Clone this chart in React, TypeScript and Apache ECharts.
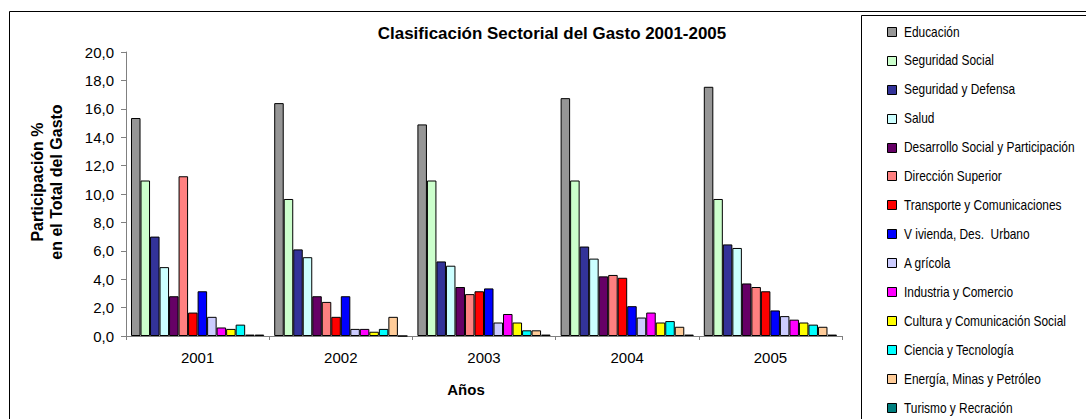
import React, { useEffect, useRef } from "react";
import * as echarts from "echarts";

const years = ["2001", "2002", "2003", "2004", "2005"];
const sectors = [
  "Educación",
  "Seguridad Social",
  "Seguridad y Defensa",
  "Salud",
  "Desarrollo Social y Participación",
  "Dirección Superior",
  "Transporte y Comunicaciones",
  "V ivienda, Des.  Urbano",
  "A grícola",
  "Industria y Comercio",
  "Cultura y Comunicación Social",
  "Ciencia y Tecnología",
  "Energía, Minas y Petróleo",
  "Turismo y Recración",
];
const colors = [
  "#969696", "#CCFFCC", "#333399", "#CCFFFF", "#660066", "#FF8080", "#FF0000",
  "#0000FF", "#CCCCFF", "#FF00FF", "#FFFF00", "#00FFFF", "#FFCC99", "#008080",
];
// values per sector, for years 2001..2005
const educacion = [15.35, 16.4, 14.9, 16.75, 17.55];
const seguridadSocial = [10.95, 9.65, 10.95, 10.95, 9.65];
const seguridadDefensa = [7.0, 6.1, 5.25, 6.3, 6.45];
const salud = [4.85, 5.55, 4.95, 5.45, 6.2];
const desarrollo = [2.8, 2.8, 3.45, 4.2, 3.7];
const direccion = [11.25, 2.4, 2.95, 4.3, 3.45];
const transporte = [1.65, 1.35, 3.15, 4.1, 3.15];
const vivienda = [3.15, 2.8, 3.35, 2.1, 1.8];
const agricola = [1.35, 0.5, 0.95, 1.3, 1.4];
const industria = [0.6, 0.5, 1.55, 1.65, 1.15];
const cultura = [0.5, 0.3, 0.95, 0.95, 0.95];
const ciencia = [0.8, 0.5, 0.4, 1.05, 0.8];
const energia = [0.1, 1.35, 0.4, 0.65, 0.65];
const turismo = [0.1, 0.0, 0.1, 0.1, 0.1];
const seriesValues = [
  educacion, seguridadSocial, seguridadDefensa, salud, desarrollo, direccion,
  transporte, vivienda, agricola, industria, cultura, ciencia, energia, turismo,
];
const yTicks = { min: 0, max: 20, interval: 2 };

const arial = "'Liberation Sans', Arial, sans-serif";

export default function App() {
  const ref = useRef<HTMLDivElement>(null);
  useEffect(() => {
    document.body.style.margin = "0";
    const chart = echarts.init(ref.current!, undefined, { renderer: "svg" });

    const legendItems: any[] = [];
    sectors.forEach((name, i) => {
      const cy = 31.7 + 28.95 * i;
      legendItems.push({
        type: "rect",
        shape: { x: 887.5, y: Math.round(cy - 5) + 0.5, width: 9, height: 9 },
        style: { fill: colors[i], stroke: "#000", lineWidth: 1 },
      });
      legendItems.push({
        type: "text",
        x: 904,
        y: cy,
        scaleX: 0.85,
        style: {
          text: name,
          font: `14px ${arial}`,
          fill: "#000",
          textAlign: "left",
          textVerticalAlign: "middle",
        },
      });
    });

    chart.setOption({
      animation: false,
      backgroundColor: "#ffffff",
      grid: { left: 126, right: 244, top: 52, bottom: 83 },
      xAxis: {
        type: "category",
        data: years,
        axisLine: { lineStyle: { color: "#808080", width: 1 } },
        axisTick: { show: true, length: 4, lineStyle: { color: "#808080" } },
        axisLabel: { fontFamily: arial, fontSize: 15, color: "#000", margin: 14 },
      },
      yAxis: {
        type: "value",
        min: yTicks.min,
        max: yTicks.max,
        interval: yTicks.interval,
        splitLine: { show: false },
        axisLine: { show: true, lineStyle: { color: "#808080", width: 1 } },
        axisTick: { show: true, length: 5, lineStyle: { color: "#808080" } },
        axisLabel: {
          fontFamily: arial,
          fontSize: 15,
          color: "#000",
          margin: 12,
          formatter: (v: number) => v.toFixed(1).replace(".", ","),
        },
      },
      series: sectors.map((name, i) => ({
        name,
        type: "bar",
        data: seriesValues[i],
        barGap: "0%",
        barCategoryGap: "7%",
        itemStyle: { color: colors[i], borderColor: "#000", borderWidth: 1 },
      })),
      graphic: [
        { type: "line", shape: { x1: 9.5, y1: 11.5, x2: 1086, y2: 11.5 }, style: { stroke: "#000", lineWidth: 1 } },
        { type: "line", shape: { x1: 9.5, y1: 11.5, x2: 9.5, y2: 419 }, style: { stroke: "#000", lineWidth: 1 } },
        { type: "rect", shape: { x: 861.5, y: 15.5, width: 240, height: 420 }, style: { fill: "none", stroke: "#000", lineWidth: 1 } },
        {
          type: "text", x: 552, y: 33, scaleX: 1.06,
          style: { text: "Clasificación Sectorial del Gasto 2001-2005", font: `bold 16px ${arial}`, fill: "#000", textAlign: "center", textVerticalAlign: "middle" },
        },
        {
          type: "text", x: 466, y: 389,
          style: { text: "Años", font: `bold 15px ${arial}`, fill: "#000", textAlign: "center", textVerticalAlign: "middle" },
        },
        {
          type: "text", x: 47, y: 182, rotation: Math.PI / 2,
          style: { text: "Participación %\nen el Total del Gasto", font: `bold 16px ${arial}`, lineHeight: 19, fill: "#000", textAlign: "center", textVerticalAlign: "middle" },
        },
        ...legendItems,
      ],
    });
    return () => chart.dispose();
  }, []);
  return <div ref={ref} style={{ width: 1086, height: 419 }} />;
}
